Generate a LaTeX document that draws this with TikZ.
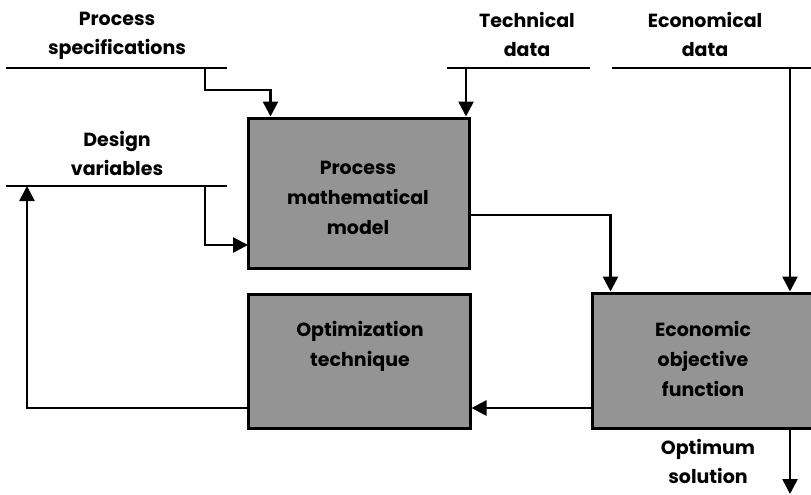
\documentclass[tikz,border=0pt]{standalone}
\usepackage{fontspec}
\setmainfont{Poppins}
\usetikzlibrary{arrows.meta}
\definecolor{blockgray}{gray}{0.58}
\begin{document}
\begin{tikzpicture}[x=1pt,y=-1pt,
  wire/.style={line width=2.6pt},
  flow/.style={wire,-{Triangle[length=15pt,width=15pt]}},
  block/.style={draw,line width=3pt,fill=blockgray,inner sep=0pt},
  lbl/.style={font=\fontsize{19}{29}\selectfont\bfseries,align=center,inner sep=0pt,anchor=north},
  blocktext/.style={lbl,font=\fontsize{19}{30}\selectfont\bfseries}]
\useasboundingbox (0,0) rectangle (811,495);

% blocks (the objective-function block runs off the right edge)
\node[block,minimum width=221pt,minimum height=150pt] (pm) at (358.5,193) {};
\node[block,minimum width=222pt,minimum height=134pt] (ot) at (359,361) {};
\node[block,minimum width=230pt,minimum height=135pt] (eo) at (707,360.5) {};

\node[blocktext] (pmt) at (358,161) {Process\\mathematical\\model};
\node[blocktext] (ott) at (360,321) {Optimization\\technique};
\node[blocktext] (eot) at (703,321) {Economic\\objective\\function};

% input and output labels
\node[lbl] (ps) at (117,12) {Process\\specifications};
\node[lbl] (td) at (527,12) {Technical\\data};
\node[lbl] (ed) at (705,12) {Economical\\data};
\node[lbl] (dv) at (117,131) {Design\\variables};
\node[lbl] (os) at (708,439) {Optimum\\solution};

% input bars
\coordinate (psA) at (6,68);   \coordinate (psB) at (227,68);  \coordinate (psJ) at (205,68);
\coordinate (tdA) at (447,68); \coordinate (tdB) at (590,68);  \coordinate (tdJ) at (466,68);
\coordinate (edA) at (612,68); \coordinate (edB) at (813,68);  \coordinate (edJ) at (790,68);
\coordinate (dvA) at (6,186);  \coordinate (dvB) at (227,186); \coordinate (dvJ) at (205,186);
\coordinate (dvRet) at (27,186);
\draw[wire] (psA) -- (psB);
\draw[wire] (tdA) -- (tdB);
\draw[wire] (edA) -- (edB);
\draw[wire] (dvA) -- (dvB);

% connectors
\coordinate (pmIn) at (248,245);
\coordinate (pmOut) at (469,215);
\coordinate (eoOut) at (592,408);
\coordinate (osEnd) at (790,494);

\draw[flow] (psJ) -- ++(0,22) -| ([xshift=24pt]pm.north west);
\draw[flow] (tdJ) -- (tdJ |- pm.north);
\draw[flow] (edJ) -- (edJ |- eo.north);
\draw[flow] (dvJ) |- (pmIn);
\draw[flow] (pmOut) -| ([xshift=20pt]eo.north west);
\draw[flow] (eoOut) -- (ot.east |- eoOut);
\draw[flow] (ot.west |- eoOut) -| (dvRet);
\draw[flow] (edJ |- eo.south) -- (osEnd);
\end{tikzpicture}
\end{document}
